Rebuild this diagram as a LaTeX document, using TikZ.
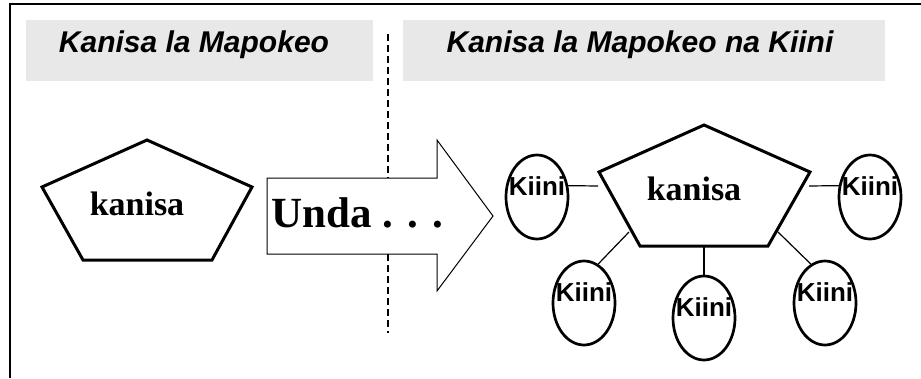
\documentclass[tikz,border=0pt]{standalone}
\usepackage{fontspec}
\setmainfont{Liberation Serif}
\newfontfamily\arialfont{Liberation Sans}
\usetikzlibrary{shapes.geometric}

\begin{document}
\begin{tikzpicture}[x=1pt, y=-1pt,
  headbox/.style={fill=black!9, draw=none, inner sep=0pt},
  headtext/.style={font=\arialfont\bfseries\itshape\fontsize{30}{30}\selectfont, anchor=base, inner sep=0pt},
  church/.style={line width=3pt, line join=miter},
  churchtext/.style={font=\bfseries\fontsize{34}{34}\selectfont, anchor=base, inner sep=0pt},
  kiini/.style={draw, ellipse, line width=2.7pt, minimum width=62pt, minimum height=84pt, inner sep=0pt},
  kiinitext/.style={font=\arialfont\bfseries\fontsize{26}{26}\selectfont, inner sep=0pt, yshift=11pt},
  link/.style={line width=1.2pt}]
  \useasboundingbox (0,0) rectangle (921,378);

  % --- frame ---
  \draw[line width=1.3pt] (921,4) -- (10,4) -- (10,378);

  % --- headers ---
  \node[headbox, minimum width=347pt, minimum height=61pt] (boxl) at (199.5,50.5) {};
  \node[headbox, minimum width=482pt, minimum height=61pt] (boxr) at (644,50.5) {};
  \node[headtext] (titlel) at (194,52) {Kanisa la Mapokeo};
  \node[headtext] (titler) at (640,52) {Kanisa la Mapokeo na Kiini};

  % --- dashed divider ---
  \coordinate (dtop) at (388,34);
  \coordinate (dbot) at (388,333);
  \draw[line width=1.2pt, dash pattern=on 7pt off 4pt] (dtop) -- (dbot);

  % --- big arrow ---
  \draw[fill=white, line width=1pt] (267,178) -- (437,178) -- (437,140) -- (493,216)
    -- (437,291) -- (437,254) -- (267,254) -- cycle;
  \node[font=\bfseries\fontsize{43}{43}\selectfont, anchor=base west, inner sep=0pt] (unda) at (271,227) {Unda . . .};

  % --- left church ---
  \draw[church] (147,140) -- (252,187) -- (212,260) -- (83,260) -- (42,187) -- cycle;
  \node[churchtext] (kanisal) at (137,215) {kanisa};

  % --- right church ---
  \coordinate (pt) at (704,125);
  \coordinate (pr) at (810,172);
  \coordinate (pbr) at (768,246);
  \coordinate (pbl) at (640,246);
  \coordinate (pl) at (599,172);
  \draw[church] (pt) -- (pr) -- (pbr) -- (pbl) -- (pl) -- cycle;
  \node[churchtext] (kanisar) at (694,200) {kanisa};

  % --- cells ---
  \coordinate (c1) at (598,186);
  \coordinate (c2) at (809,186);
  \coordinate (c3) at (629,232);
  \coordinate (c4) at (704,246);
  \coordinate (c5) at (778,232);
  \foreach \n/\x/\y in {1/537/197, 2/870/197, 3/584/303, 4/704/318, 5/825/303} {
    \node[kiini, label={[kiinitext, name=t\n]center:Kiini}] (k\n) at (\x,\y) {};
  }
  \draw[link] (k1.20) -- (c1);
  \draw[link] (k2.160) -- (c2);
  \draw[link] (k3.70) -- (c3);
  \draw[link] (k4.north) -- (c4);
  \draw[link] (k5.110) -- (c5);
\end{tikzpicture}
\end{document}
